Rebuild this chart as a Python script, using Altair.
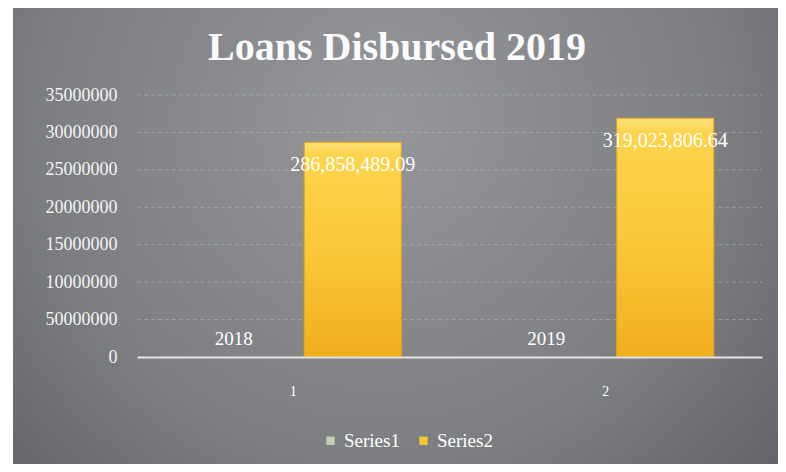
import altair as alt
import pandas as pd

# ---- data ----
categories = ["1", "2"]
series_names = ["Series1", "Series2"]
series1_values = [2018, 2019]
series2_values = [286858489.09, 319023806.64]
y_tick_values = [0, 50000000, 100000000, 150000000, 200000000, 250000000, 300000000, 350000000]
y_tick_labels = ["0", "50000000", "10000000", "15000000", "20000000", "25000000", "30000000", "35000000"]
title_text = "Loans Disbursed 2019"

FONT = "Liberation Serif"

rows = []
for i, c in enumerate(categories):
    rows.append({"cat": c, "series": series_names[0], "value": series1_values[i],
                 "label": format(series1_values[i], "d")})
    rows.append({"cat": c, "series": series_names[1], "value": series2_values[i],
                 "label": f"{series2_values[i]:,.2f}"})
df = pd.DataFrame(rows)

label_expr = "''"
for v, l in reversed(list(zip(y_tick_values, y_tick_labels))):
    label_expr = f"datum.value == {v} ? '{l}' : ({label_expr})"

x_enc = alt.X("cat:N", sort=categories,
              scale=alt.Scale(paddingInner=0, paddingOuter=0),
              axis=alt.Axis(title=None, labelAngle=0, labelFont=FONT, labelFontSize=14,
                            labelColor="white", labelPadding=27, domainColor="#e4e4e4",
                            domainWidth=2, ticks=False, grid=False, zindex=1))
xo_enc = alt.XOffset("series:N", sort=series_names,
                     scale=alt.Scale(paddingInner=0.185, paddingOuter=0.405))
y_scale = alt.Scale(domain=[0, 350000000], nice=False)
y_enc = alt.Y("value:Q", scale=y_scale,
              axis=alt.Axis(title=None, values=y_tick_values, labelExpr=label_expr,
                            domain=False, ticks=False, grid=False, labelPadding=20,
                            labelOverlap=False, labelBound=False,
                            labelFont=FONT, labelFontSize=18, labelColor="#f4f4f4",
                            zindex=1))

base = alt.Chart(df)

bg = alt.Chart(pd.DataFrame({"k": [0]})).mark_rect(
    fill=alt.RadialGradient(
        gradient="radial",
        stops=[alt.GradientStop(offset=0, color="#95979b"),
               alt.GradientStop(offset=0.55, color="#7c7e82"),
               alt.GradientStop(offset=1, color="#55575b")],
        x1=0.48, y1=0.35, x2=0.48, y2=0.35, r1=0, r2=0.8)
).encode(x=alt.value(-124), x2=alt.value(645), y=alt.value(-87), y2=alt.value(372))

bars = base.mark_bar().encode(
    x=x_enc, xOffset=xo_enc, y=y_enc,
    color=alt.Color("series:N",
                    scale=alt.Scale(domain=series_names, range=["#c3cfb1", "#f8c531"]),
                    legend=alt.Legend(title=None, orient="none", legendX=184, legendY=336,
                                      direction="horizontal", symbolType="square",
                                      symbolSize=70, symbolStrokeWidth=0,
                                      labelFont=FONT, labelFontSize=19, labelColor="white",
                                      columnPadding=14, labelOffset=4))
)

grid = alt.Chart(pd.DataFrame({"value": y_tick_values[1:]})).mark_rule(
    color="#b8babd", strokeDash=[4, 3], strokeWidth=1, opacity=0.55
).encode(y=y_enc, x=alt.value(0), x2=alt.value(625))

gold = base.transform_filter(alt.datum.series == "Series2").mark_bar(
    fill=alt.LinearGradient(
        gradient="linear",
        stops=[alt.GradientStop(offset=0, color="#fde27a"),
               alt.GradientStop(offset=0.06, color="#fcd44c"),
               alt.GradientStop(offset=0.5, color="#fac83a"),
               alt.GradientStop(offset=1, color="#f2ae1c")],
        x1=0, y1=0, x2=0, y2=1),
    stroke="#e2a218", strokeWidth=1
).encode(x=x_enc, xOffset=xo_enc, y=y_enc)

lab2 = base.transform_filter(alt.datum.series == "Series2").mark_text(
    baseline="middle", dy=23, font=FONT, fontSize=20, color="white"
).encode(x=x_enc, xOffset=xo_enc, y=y_enc, text="label:N")

lab1 = base.transform_filter(alt.datum.series == "Series1").mark_text(
    baseline="alphabetic", dy=-12, font=FONT, fontSize=19, color="white"
).encode(x=x_enc, xOffset=xo_enc, y=y_enc, text="label:N")

tdf = pd.DataFrame({"t": [title_text]})
title = alt.Chart(tdf).mark_text(
    font=FONT, fontSize=40, fontWeight="bold", color="#fbfbfb",
    align="center", baseline="alphabetic"
).encode(x=alt.value(260), y=alt.value(-35), text="t:N")

chart = alt.layer(bg, bars, grid, gold, lab2, lab1, title).properties(
    width=625, height=262, autosize="none",
    padding={"left": 129, "top": 87, "right": 16, "bottom": 107},
    background="white"
).configure_view(stroke=None)

chart.save("out.html", embed_options={"renderer": "svg", "actions": False})
